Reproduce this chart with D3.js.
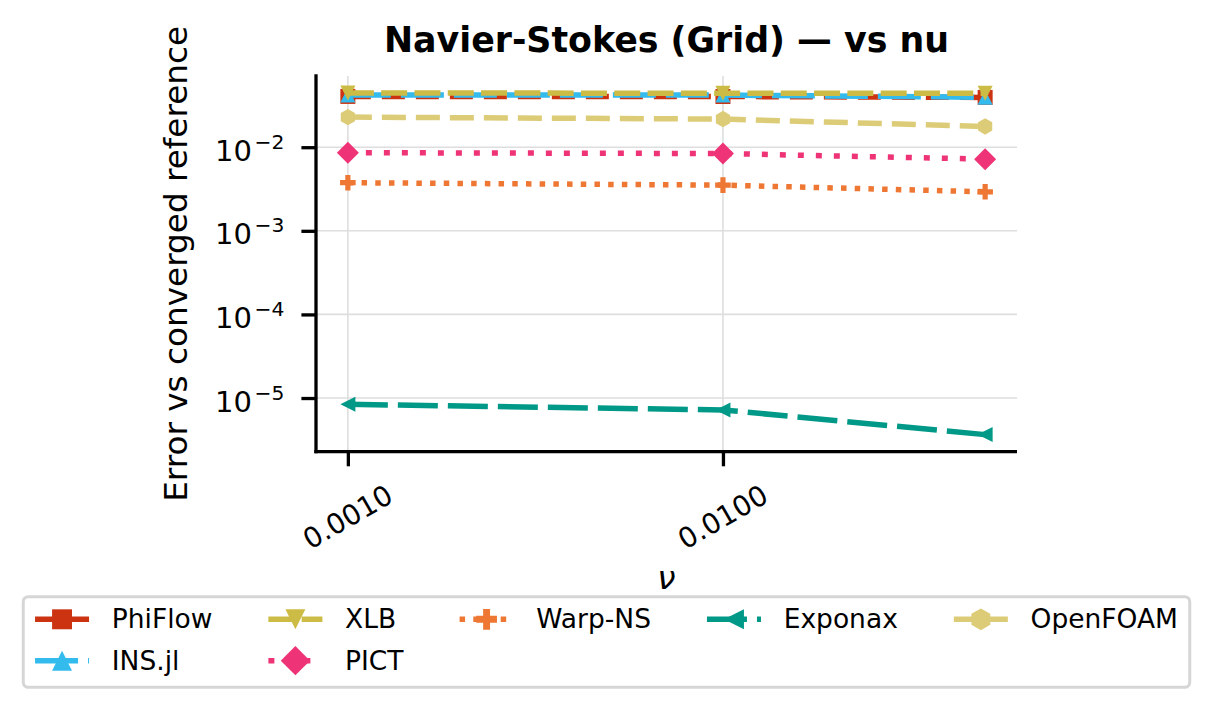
<!DOCTYPE html>
<html>
<head>
<meta charset="utf-8">
<script src="https://cdn.jsdelivr.net/npm/d3@7"></script>
<style>
  html, body { margin: 0; padding: 0; background: #fff; }
  svg { display: block; font-family: "DejaVu Sans", sans-serif; }
</style>
</head>
<body>
<div id="chart"></div>
<script>
/* global d3 */

// data
const nuValues = [0.001, 0.01, 0.05];
const xTickValues = [0.001, 0.01];
const yTickExponents = [-2, -3, -4, -5];
const seriesNames = ['PhiFlow', 'INS.jl', 'XLB', 'PICT', 'Warp-NS', 'Exponax', 'OpenFOAM'];
const phiflowErr = [0.0405, 0.0404, 0.0394];
const insjlErr = [0.0422, 0.0420, 0.0396];
const xlbErr = [0.0444, 0.0443, 0.0441];
const pictErr = [0.0086, 0.0084, 0.0072];
const warpErr = [0.00376, 0.00352, 0.00293];
const exponaxErr = [8.4e-6, 7.2e-6, 3.65e-6];
const openfoamErr = [0.0229, 0.0217, 0.0177];
const seriesValues = [phiflowErr, insjlErr, xlbErr, pictErr, warpErr, exponaxErr, openfoamErr];

// styles
const STYLES = {
    'PhiFlow':  { color: '#CC3311', dash: '23,11', marker: 'square' },
    'INS.jl':   { color: '#33BBEE', dash: '43,10', marker: 'triUp' },
    'XLB':      { color: '#CCBB44', dash: '26,7.3', marker: 'triDown' },
    'PICT':     { color: '#EE3377', dash: '6,12', marker: 'diamond' },
    'Warp-NS':  { color: '#EE7733', dash: '5.5,8.2', marker: 'plus' },
    'Exponax':  { color: '#009988', dash: '40,10', marker: 'triLeft' },
    'OpenFOAM': { color: '#DDCC77', dash: '24,10', marker: 'hexagon' },
};

const WIDTH = 1213;
const HEIGHT = 711;
const MARGIN_LEFT = 316;
const MARGIN_RIGHT = 196;
const MARGIN_TOP = 76;
const MARGIN_BOTTOM = 259.3;
const LINE_W = 5.5;
const SPINE_W = 3.3;
const TICK_LEN = 14.6;
const FONT = 28;
const YTICK_FONT = 29;
const LABEL_FONT = 32.7;
const LEGEND_FONT = 26.5;
const LEGEND_MARKER_SCALE = 1.33;

// helper functions
function markerPath(type, s = 1) {
    let r;
    switch (type) {
        case 'square':
            r = 7.5 * s;
            return `M${-r},${-r}H${r}V${r}H${-r}Z`;
        case 'triUp':
            r = 7.5 * s;
            return `M0,${-r}L${r},${r}L${-r},${r}Z`;
        case 'triDown':
            r = 7.5 * s;
            return `M0,${r}L${r},${-r}L${-r},${-r}Z`;
        case 'triLeft':
            r = 7.5 * s;
            return `M${-r},0L${r},${-r}L${r},${r}Z`;
        case 'diamond':
            r = 11 * s;
            return `M0,${-r}L${r},0L0,${r}L${-r},0Z`;
        case 'plus': {
            r = 7.8 * s;
            const a = r / 3;
            return `M${-a},${-r}H${a}V${-a}H${r}V${a}H${a}V${r}H${-a}V${a}H${-r}V${-a}H${-a}Z`;
        }
        case 'hexagon': {
            r = 8.2 * s;
            const pts = d3.range(6).map((k) => {
                const ang = (-90 + k * 60) * Math.PI / 180;
                return [r * Math.cos(ang), r * Math.sin(ang)];
            });
            return 'M' + pts.map((p) => p.join(',')).join('L') + 'Z';
        }
        default:
            return '';
    }
}

function paddedLogDomain(values) {
    const lo = Math.log10(d3.min(values));
    const hi = Math.log10(d3.max(values));
    const pad = (hi - lo) * 0.05;
    return [Math.pow(10, lo - pad), Math.pow(10, hi + pad)];
}

const $svg = d3.select('#chart').append('svg')
    .attr('width', WIDTH)
    .attr('height', HEIGHT);

const plotW = WIDTH - MARGIN_LEFT - MARGIN_RIGHT;
const plotH = HEIGHT - MARGIN_TOP - MARGIN_BOTTOM;

const xScale = d3.scaleLog()
    .domain(paddedLogDomain(nuValues))
    .range([0, plotW]);
const yScale = d3.scaleLog()
    .domain(paddedLogDomain(seriesValues.flat()))
    .range([plotH, 0]);

const $g = $svg.append('g')
    .attr('transform', `translate(${MARGIN_LEFT}, ${MARGIN_TOP})`);

// grid
const $grid = $g.append('g').attr('class', 'g-grid');
$grid.selectAll('.gx').data(xTickValues).enter().append('line')
    .attr('x1', (d) => xScale(d)).attr('x2', (d) => xScale(d))
    .attr('y1', 0).attr('y2', plotH)
    .attr('stroke', '#dedede').attr('stroke-width', 1.6);
$grid.selectAll('.gy').data(yTickExponents).enter().append('line')
    .attr('y1', (d) => yScale(Math.pow(10, d))).attr('y2', (d) => yScale(Math.pow(10, d)))
    .attr('x1', 0).attr('x2', plotW)
    .attr('stroke', '#dedede').attr('stroke-width', 1.6);

// series
const line = d3.line()
    .x((d) => xScale(d[0]))
    .y((d) => yScale(d[1]));

const $vis = $g.append('g').attr('class', 'g-vis');
seriesNames.forEach((name, i) => {
    const st = STYLES[name];
    const pts = nuValues.map((nu, j) => [nu, seriesValues[i][j]]);
    $vis.append('path')
        .datum(pts)
        .attr('d', line)
        .attr('fill', 'none')
        .attr('stroke', st.color)
        .attr('stroke-width', LINE_W)
        .attr('stroke-dasharray', st.dash);
    $vis.selectAll(null).data(pts).enter().append('path')
        .attr('d', markerPath(st.marker))
        .attr('transform', (d) => `translate(${xScale(d[0])},${yScale(d[1])})`)
        .attr('fill', st.color);
});

// axes
const xAxis = d3.axisBottom(xScale)
    .tickValues(xTickValues)
    .tickSize(TICK_LEN)
    .tickFormat('');
const $xAxis = $g.append('g')
    .attr('transform', `translate(0, ${plotH})`)
    .call(xAxis);
$xAxis.select('.domain').remove();
$xAxis.selectAll('.tick line').attr('stroke', '#000').attr('stroke-width', SPINE_W);

const yAxis = d3.axisLeft(yScale)
    .tickValues(yTickExponents.map((e) => Math.pow(10, e)))
    .tickSize(TICK_LEN)
    .tickFormat('');
const $yAxis = $g.append('g').call(yAxis);
$yAxis.select('.domain').remove();
$yAxis.selectAll('.tick line').attr('stroke', '#000').attr('stroke-width', SPINE_W);

// spines
$g.append('line')
    .attr('x1', 0).attr('x2', 0)
    .attr('y1', -SPINE_W / 2).attr('y2', plotH + SPINE_W / 2)
    .attr('stroke', '#000').attr('stroke-width', SPINE_W);
$g.append('line')
    .attr('x1', -SPINE_W / 2).attr('x2', plotW)
    .attr('y1', plotH).attr('y2', plotH)
    .attr('stroke', '#000').attr('stroke-width', SPINE_W);

// x tick labels (rotated 30deg)
$g.selectAll('.xlab').data(xTickValues).enter().append('text')
    .attr('transform', (d) => `translate(${xScale(d)}, ${plotH + 65.5}) rotate(-30)`)
    .attr('text-anchor', 'middle')
    .attr('dominant-baseline', 'central')
    .attr('font-size', FONT)
    .attr('fill', '#000')
    .text((d) => d3.format('.4f')(d));

// y tick labels 10^k
const $ylab = $g.selectAll('.ylab').data(yTickExponents).enter().append('text')
    .attr('x', -TICK_LEN - 17)
    .attr('y', (d) => yScale(Math.pow(10, d)) + 13.6)
    .attr('text-anchor', 'end')
    .attr('font-size', YTICK_FONT)
    .attr('fill', '#000');
$ylab.append('tspan').text('10');
$ylab.append('tspan')
    .attr('dx', 2.5)
    .attr('dy', -12)
    .attr('font-size', YTICK_FONT * 0.7)
    .text((d) => '\u2212' + Math.abs(d));

// axis labels and title
$svg.append('text')
    .attr('transform', `translate(187, ${MARGIN_TOP + plotH / 2}) rotate(-90)`)
    .attr('text-anchor', 'middle')
    .attr('font-size', LABEL_FONT)
    .attr('fill', '#000')
    .text('Error vs converged reference');

$svg.append('text')
    .attr('x', MARGIN_LEFT + plotW / 2)
    .attr('y', 589)
    .attr('text-anchor', 'middle')
    .attr('font-size', LABEL_FONT)
    .attr('font-style', 'italic')
    .attr('fill', '#000')
    .text('\u03bd');

$svg.append('text')
    .attr('x', MARGIN_LEFT + plotW / 2)
    .attr('y', 52)
    .attr('text-anchor', 'middle')
    .attr('font-size', 34.8)
    .attr('font-weight', 'bold')
    .attr('fill', '#000')
    .text('Navier-Stokes (Grid) \u2014 vs nu');

// legend
const N_COLS = 5;
const HANDLE_LEN = 54;
const TEXT_PAD = 22.7;
const COL_SPACING = 56;
const PAD_X = 11.8;
const ROW_Y = [619.3, 660.7];
const BOX_TOP = 596.7;
const BOX_BOTTOM = 687.3;

const $legend = $svg.append('g').attr('class', 'g-legend');
const $frame = $legend.append('rect');
const $items = $legend.append('g');

const nRows = Math.ceil(seriesNames.length / N_COLS);
const nFull = seriesNames.length % N_COLS || N_COLS;
const columns = [];
let idx = 0;
for (let c = 0; c < N_COLS; c++) {
    const rows = c < nFull ? nRows : nRows - 1;
    columns.push(seriesNames.slice(idx, idx + rows));
    idx += rows;
}

let cursor = PAD_X;
columns.forEach((col) => {
    let maxW = 0;
    col.forEach((name, r) => {
        const st = STYLES[name];
        const y = ROW_Y[r];
        $items.append('line')
            .attr('x1', cursor).attr('x2', cursor + HANDLE_LEN)
            .attr('y1', y).attr('y2', y)
            .attr('stroke', st.color)
            .attr('stroke-width', LINE_W)
            .attr('stroke-dasharray', st.dash);
        $items.append('path')
            .attr('d', markerPath(st.marker, LEGEND_MARKER_SCALE))
            .attr('transform', `translate(${cursor + HANDLE_LEN / 2},${y})`)
            .attr('fill', st.color);
        const t = $items.append('text')
            .attr('x', cursor + HANDLE_LEN + TEXT_PAD)
            .attr('y', y + 9)
            .attr('font-size', LEGEND_FONT)
            .attr('fill', '#000')
            .text(name);
        maxW = Math.max(maxW, t.node().getComputedTextLength());
    });
    cursor += HANDLE_LEN + TEXT_PAD + maxW + COL_SPACING;
});
const boxW = cursor - COL_SPACING + PAD_X;
const boxX = WIDTH / 2 - boxW / 2;
$items.attr('transform', `translate(${boxX}, 0)`);
$frame
    .attr('x', boxX).attr('y', BOX_TOP)
    .attr('width', boxW).attr('height', BOX_BOTTOM - BOX_TOP)
    .attr('rx', 5).attr('ry', 5)
    .attr('fill', 'rgba(255,255,255,0.8)')
    .attr('stroke', '#d6d6d6')
    .attr('stroke-width', 3);
</script>
</body>
</html>
